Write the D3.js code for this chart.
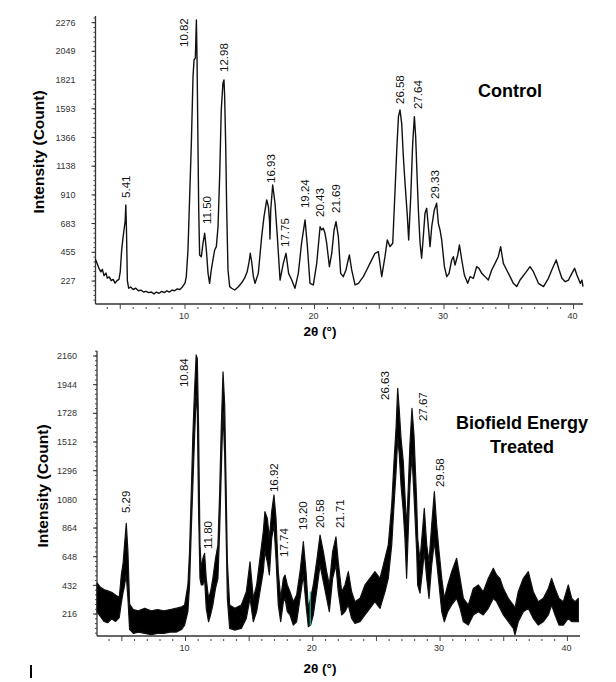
<!DOCTYPE html>
<html>
<head>
<meta charset="utf-8">
<script src="https://cdn.jsdelivr.net/npm/d3@7"></script>
<style>
  body { margin: 0; background: #fff; }
  svg { display: block; font-family: Arial, "Liberation Sans", sans-serif; }
</style>
</head>
<body>
<div id="chart"></div>
<script>
// Control pattern (2theta in degrees, counts)
const controlAngle = [3.08, 3.2, 3.35, 3.5, 3.62, 3.75, 3.9, 4.0, 4.15, 4.3, 4.45, 4.6, 4.75, 4.9,
  5.0, 5.1, 5.2, 5.3, 5.38, 5.43, 5.48, 5.55, 5.65, 5.8, 6.0, 6.2, 6.4, 6.6, 6.8, 7.0, 7.2, 7.4,
  7.6, 7.8, 8.0, 8.2, 8.4, 8.6, 8.8, 9.0, 9.2, 9.4, 9.6, 9.8, 10.0, 10.1, 10.23, 10.36, 10.49,
  10.62, 10.7, 10.8, 10.88, 10.93, 11.0, 11.06, 11.13, 11.26, 11.39, 11.52, 11.65, 11.78, 11.9,
  12.03, 12.2, 12.29, 12.42, 12.55, 12.68, 12.8, 12.93, 13.01, 13.06, 13.14, 13.22, 13.32, 13.45,
  13.6, 13.84, 14.1, 14.35, 14.6, 14.8, 14.95, 15.04, 15.15, 15.28, 15.41, 15.66, 15.92, 16.1,
  16.31, 16.44, 16.53, 16.56, 16.62, 16.77, 16.95, 17.13, 17.34, 17.59, 17.8, 18.0, 18.24, 18.49,
  18.75, 19.0, 19.27, 19.45, 19.65, 19.91, 20.17, 20.43, 20.55, 20.68, 20.81, 20.94, 21.15, 21.33,
  21.51, 21.66, 21.84, 22.02, 22.22, 22.43, 22.69, 22.87, 23.13, 23.39, 23.77, 24.03, 24.28, 24.67,
  24.93, 25.19, 25.44, 25.62, 25.83, 26.04, 26.22, 26.35, 26.48, 26.6, 26.73, 26.86, 26.99, 27.17,
  27.27, 27.43, 27.58, 27.71, 27.81, 27.94, 28.02, 28.15, 28.27, 28.4, 28.53, 28.66, 28.79, 28.92,
  29.05, 29.25, 29.43, 29.56, 29.69, 29.82, 30.03, 30.21, 30.39, 30.59, 30.72, 30.85, 31.06, 31.19,
  31.37, 31.57, 31.83, 32.01, 32.27, 32.52, 32.7, 32.91, 33.17, 33.42, 33.68, 33.94, 34.19, 34.37,
  34.58, 34.84, 35.1, 35.35, 35.61, 35.87, 36.26, 36.64, 36.9, 37.29, 37.68, 38.06, 38.32, 38.66,
  38.89, 39.1, 39.36, 39.61, 39.87, 40.08, 40.26, 40.52, 40.65, 40.73];
const controlCount = [400, 370, 330, 300, 320, 270, 290, 250, 260, 230, 240, 210, 230, 240,
  300, 460, 560, 640, 700, 830, 640, 230, 170, 180, 160, 170, 150, 155, 140, 145, 135, 140,
  125, 140, 130, 145, 135, 150, 140, 155, 150, 165, 160, 180, 210, 262, 473, 896, 1319,
  1848, 1982, 1995, 2297, 1982, 1319, 790, 434, 420, 527, 606, 473, 288, 209,
  315, 420, 473, 500, 658, 1070, 1583, 1795, 1822, 1700, 1319, 790, 315, 183,
  170, 156, 180, 209, 250, 300, 380, 447, 380, 262, 209, 288, 579, 738,
  870, 817, 700, 560, 791, 989, 844, 579, 235, 367, 447, 288, 235, 169,
  288, 527, 712, 500, 209, 196, 367, 658, 632, 645, 606, 527, 341, 447,
  632, 698, 579, 288, 262, 315, 434, 315, 196, 209, 262, 315, 367, 447,
  460, 262, 420, 553, 500, 527, 949, 1266, 1531, 1584, 1478, 1213, 1003, 738,
  553, 896, 1319, 1531, 1372, 1003, 791, 527, 408, 579, 765, 804, 658, 500,
  658, 791, 844, 685, 632, 553, 341, 262, 288, 394, 420, 354, 434, 513,
  394, 275, 209, 262, 249, 341, 328, 288, 262, 235, 315, 367, 420, 500,
  367, 315, 262, 209, 183, 235, 288, 341, 301, 209, 183, 249, 315, 394,
  315, 249, 222, 235, 288, 328, 275, 209, 235, 183];

// Treated pattern: the trace is a dense noisy band, kept as its upper and lower edge
const treatedAngle = [3.05, 3.3, 3.6, 3.9, 4.2, 4.5, 4.8, 4.96, 5.1, 5.17, 5.35, 5.48, 5.61, 5.9,
  6.3, 6.8, 7.3, 7.8, 8.3, 8.8, 9.3, 9.7, 9.93, 10.19, 10.32, 10.45, 10.58, 10.71, 10.84, 10.93,
  11.03, 11.14, 11.24, 11.37, 11.5, 11.63, 11.81, 11.97, 12.15, 12.36, 12.55, 12.68, 12.81, 12.95,
  13.08, 13.19, 13.29, 13.47, 13.87, 14.39, 14.78, 15.07, 15.33, 15.59, 15.85, 16.11, 16.24, 16.43,
  16.59, 16.77, 16.95, 17.11, 17.29, 17.48, 17.69, 17.82, 18.0, 18.21, 18.47, 18.73, 19.0, 19.26,
  19.47, 19.65, 19.83, 20.04, 20.3, 20.57, 20.83, 21.09, 21.3, 21.56, 21.82, 22.0, 22.27, 22.53,
  22.79, 23.05, 23.31, 23.71, 24.1, 24.49, 24.88, 25.28, 25.67, 25.93, 26.2, 26.38, 26.54, 26.67,
  26.8, 26.93, 27.11, 27.24, 27.37, 27.5, 27.63, 27.79, 27.95, 28.16, 28.24, 28.42, 28.61, 28.76,
  28.95, 29.13, 29.34, 29.55, 29.73, 29.92, 30.13, 30.33, 30.6, 30.91, 31.3, 31.57, 31.83, 32.22,
  32.61, 33.0, 33.39, 33.79, 34.18, 34.44, 34.7, 34.97, 35.36, 35.75, 35.88, 36.14, 36.54, 36.93,
  37.32, 37.71, 38.11, 38.5, 38.76, 39.03, 39.34, 39.68, 40.07, 40.34, 40.6, 40.86];
const treatedHigh = [450, 420, 400, 390, 380, 360, 340, 510, 600, 686, 900, 686, 290, 250,
  240, 260, 240, 250, 240, 250, 260, 270, 284, 435, 686, 1113, 1565, 1894, 2168, 2142,
  1615, 736, 560, 636, 673, 485, 334, 384, 485, 636, 736, 1113, 1615, 2041,
  1791, 1188, 610, 284, 259, 284, 384, 610, 334, 435, 636, 836, 987, 937,
  786, 987, 1113, 937, 535, 334, 485, 510, 435, 384, 309, 359, 535, 761,
  535, 259, 334, 435, 610, 811, 686, 535, 435, 686, 798, 610, 384, 435,
  535, 384, 309, 334, 435, 485, 535, 485, 636, 736, 1037, 1364, 1615, 1916,
  1741, 1540, 1364, 1113, 862, 1163, 1489, 1766, 1565, 1062, 786, 620, 836, 1012,
  736, 610, 887, 1138, 887, 686, 485, 334, 435, 535, 636, 485, 334, 284,
  409, 435, 384, 485, 560, 510, 485, 409, 334, 284, 260, 384, 485, 535,
  384, 309, 334, 409, 485, 409, 334, 309, 435, 334, 309, 334];
const treatedLow = [230, 200, 160, 150, 180, 160, 190, 300, 380, 409, 510, 334, 100, 70,
  80, 70, 60, 70, 70, 80, 80, 100, 133, 234, 435, 836, 1188, 1540, 1866, 1741,
  987, 485, 435, 435, 485, 259, 158, 209, 284, 409, 485, 836, 1288, 1741,
  1414, 836, 334, 108, 95, 108, 183, 334, 158, 234, 384, 535, 686, 610,
  510, 786, 887, 636, 284, 158, 309, 334, 234, 209, 133, 158, 334, 510,
  284, 121, 133, 209, 384, 585, 460, 334, 234, 485, 585, 384, 209, 234,
  284, 183, 146, 158, 209, 259, 309, 259, 384, 485, 736, 1037, 1288, 1540,
  1414, 1188, 987, 786, 485, 836, 1188, 1414, 1113, 686, 435, 374, 535, 686,
  485, 334, 585, 761, 610, 435, 234, 158, 234, 284, 334, 259, 158, 133,
  209, 234, 209, 259, 334, 309, 259, 209, 158, 108, 60, 158, 234, 259,
  183, 133, 158, 209, 284, 209, 133, 133, 183, 158, 158, 158];

// Peak annotations and the height (counts) at the foot of each rotated label
const controlPeaks = [5.41, 10.82, 11.50, 12.98, 16.93, 17.75, 19.24, 20.43, 21.69, 26.58, 27.64, 29.33];
const controlLabelAt = [886, 2083, 680, 1885, 1005, 497, 806, 735, 767, 1631, 1592, 878];
const treatedPeaks = [5.29, 10.84, 11.80, 16.92, 17.74, 19.20, 20.58, 21.71, 26.63, 27.67, 29.58];
const treatedLabelAt = [977, 1926, 706, 1135, 646, 849, 864, 864, 1829, 1670, 1173];

// Tick labels
const controlYTicks = [227, 455, 683, 910, 1138, 1366, 1593, 1821, 2049, 2276];
const treatedYTicks = [216, 432, 648, 864, 1080, 1296, 1512, 1728, 1944, 2160];
const xTickLabels = [10, 20, 30, 40];

const width = 616;
const height = 682;

const svg = d3.select("#chart")
    .append("svg")
    .attr("width", width)
    .attr("height", height);

// two stacked panels
const upperPanel = {
    x: d3.scaleLinear().domain([3.09, 40.73]).range([95.5, 583]),
    y: d3.scaleLinear().domain([45, 2329]).range([304, 16]),
    yTicks: controlYTicks, yStep: 227.6,
    title: ["Control"], titleX: 510, titleY: 97,
    peaks: controlPeaks, labelAt: controlLabelAt,
    shift: {"10.82": -12, "27.64": 5, "16.93": -4, "11.5": 3},
    axisTitleY: 336, yTitleX: 44, yTitleY: 152
};
const lowerPanel = {
    x: d3.scaleLinear().domain([3.05, 40.99]).range([97, 580]),
    y: d3.scaleLinear().domain([50.5, 2200]).range([636, 350.7]),
    yTicks: treatedYTicks, yStep: 216,
    title: ["Biofield Energy", "Treated"], titleX: 522, titleY: 429,
    peaks: treatedPeaks, labelAt: treatedLabelAt,
    shift: {"10.84": -12, "21.71": 5, "26.63": -12, "27.67": 13, "29.58": 5},
    axisTitleY: 673, yTitleX: 48, yTitleY: 486
};

function drawAxes(p) {
    const g = svg.append("g");
    const [x0, x1] = p.x.range();
    const [yb, yt] = p.y.range();

    // y axis: labelled major ticks plus five minor ticks in between
    g.append("line").attr("x1", x0).attr("x2", x0).attr("y1", yt).attr("y2", yb)
        .attr("stroke", "#333").attr("stroke-width", 1.3);
    const minor = [];
    for (let v = p.yTicks[0] - p.yStep; v < p.y.domain()[1]; v += p.yStep / 6) {
        if (v > p.y.domain()[0]) minor.push(v);
    }
    g.selectAll("line.ymin").data(minor).join("line")
        .attr("x1", x0 - 2).attr("x2", x0)
        .attr("y1", d => p.y(d)).attr("y2", d => p.y(d))
        .attr("stroke", "#444").attr("stroke-width", 1);
    g.selectAll("line.ymaj").data(p.yTicks).join("line")
        .attr("x1", x0 - 4).attr("x2", x0)
        .attr("y1", d => p.y(d)).attr("y2", d => p.y(d))
        .attr("stroke", "#333").attr("stroke-width", 1);
    g.selectAll("text.ylab").data(p.yTicks).join("text")
        .attr("x", x0 - 20).attr("y", d => p.y(d))
        .attr("dy", "0.35em").attr("text-anchor", "end")
        .attr("font-size", 9).attr("fill", "#333")
        .text(d => d);

    // x axis: major every 5 degrees, minor every degree
    g.append("line").attr("x1", x0).attr("x2", x1).attr("y1", yb).attr("y2", yb)
        .attr("stroke", "#333").attr("stroke-width", 1.3);
    const deg = d3.range(Math.ceil(p.x.domain()[0]), p.x.domain()[1], 1);
    g.selectAll("line.xt").data(deg).join("line")
        .attr("x1", d => p.x(d)).attr("x2", d => p.x(d))
        .attr("y1", d => d % 5 === 0 ? yb : yb + 3)
        .attr("y2", yb + 5)
        .attr("stroke", "#444").attr("stroke-width", 1);
    g.selectAll("text.xlab").data(xTickLabels).join("text")
        .attr("x", d => p.x(d) - 1).attr("y", yb + 15)
        .attr("text-anchor", "middle")
        .attr("font-size", 9).attr("fill", "#333")
        .text(d => d);

    // axis titles
    g.append("text").attr("x", 320).attr("y", p.axisTitleY)
        .attr("text-anchor", "middle").attr("font-size", 13.5).attr("font-weight", "bold")
        .text("2θ (°)");
    g.append("text")
        .attr("transform", `translate(${p.yTitleX},${p.yTitleY}) rotate(-90)`)
        .attr("text-anchor", "middle").attr("font-size", 15.5).attr("font-weight", "bold")
        .text("Intensity (Count)");

    // panel title
    g.selectAll("text.title").data(p.title).join("text")
        .attr("x", p.titleX).attr("y", (d, i) => p.titleY + i * 23.5)
        .attr("text-anchor", "middle").attr("font-size", 18).attr("font-weight", "bold")
        .text(d => d);
}

function drawLabels(p) {
    svg.append("g")
        .selectAll("text")
        .data(p.peaks)
        .join("text")
        .attr("transform", (d, i) => {
            const dx = p.shift[String(d)] || 0;
            return `translate(${p.x(d) + dx},${p.y(p.labelAt[i])}) rotate(-90)`;
        })
        .attr("dy", "0.35em")
        .attr("font-size", 11.5)
        .attr("fill", "#111")
        .text(d => d.toFixed(2));
}

// Control trace
drawAxes(upperPanel);
const controlLine = d3.line()
    .x(d => upperPanel.x(d[0]))
    .y(d => upperPanel.y(d[1]));
svg.append("path")
    .datum(d3.zip(controlAngle, controlCount))
    .attr("d", controlLine)
    .attr("fill", "none")
    .attr("stroke", "#111")
    .attr("stroke-width", 1.4)
    .attr("stroke-linejoin", "round");
drawLabels(upperPanel);

// Treated trace drawn as a filled noise band
drawAxes(lowerPanel);
const band = d3.area()
    .x(d => lowerPanel.x(d[0]))
    .y0(d => lowerPanel.y(d[2]))
    .y1(d => lowerPanel.y(d[1]));
svg.append("path")
    .datum(d3.zip(treatedAngle, treatedHigh, treatedLow))
    .attr("d", band)
    .attr("fill", "#000")
    .attr("stroke", "#111")
    .attr("stroke-width", 1.2)
    .attr("stroke-linejoin", "round");
drawLabels(lowerPanel);

// small teal marker left in the treated plot near 19.8 degrees
svg.append("line")
    .attr("x1", lowerPanel.x(19.8)).attr("x2", lowerPanel.x(19.8))
    .attr("y1", lowerPanel.y(130)).attr("y2", lowerPanel.y(385))
    .attr("stroke", "#2bb5a0").attr("stroke-width", 1.2);

// stray cursor bar at the bottom left of the figure
svg.append("line")
    .attr("x1", 31).attr("x2", 31).attr("y1", 665).attr("y2", 678)
    .attr("stroke", "#000").attr("stroke-width", 2);
</script>
</body>
</html>
